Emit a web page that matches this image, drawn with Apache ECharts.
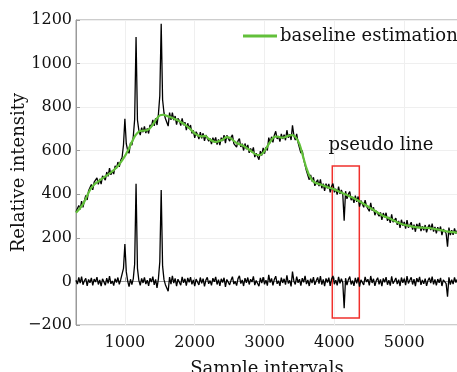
<!DOCTYPE html>
<html>
<head>
<meta charset="utf-8">
<script src="https://cdn.jsdelivr.net/npm/echarts@6/dist/echarts.min.js"></script>
<style>
html,body{margin:0;padding:0;background:#fff;}
#c{width:457px;height:372px;}
</style>
</head>
<body>
<div id="c"></div>
<script>
// sample grid of the measured spectra
const sampleStart = 300;
const sampleStep = 20;

// raw measured spectrum (relative intensity)
const rawSignal = [
 320,311,349,331,369,340,371,395,374,416,
 414,445,420,456,447,475,446,471,447,485,
 482,465,502,482,520,489,508,493,531,519,
 548,526,556,569,626,747,632,601,588,636,
 626,664,744,1122,741,693,672,706,685,712,
 681,702,679,719,709,742,714,749,718,767,
 852,1183,834,773,748,750,713,775,741,775,
 740,759,720,748,738,715,749,717,731,695,
 726,700,718,679,693,659,687,674,653,685,
 657,680,645,672,679,644,656,630,660,640,
 661,628,652,626,660,645,672,635,671,675,
 644,661,673,633,640,616,645,656,617,632,
 601,633,607,627,590,610,593,615,571,588,
 592,559,598,578,613,587,616,601,660,635,
 664,638,671,689,654,667,642,677,654,674,
 648,694,660,676,649,717,669,649,677,637,
 640,589,601,560,568,508,511,467,489,459,
 478,439,455,467,437,469,428,449,416,449,
 428,448,409,437,449,409,425,398,435,402,
 420,399,279,414,379,401,412,373,388,361,
 394,365,390,343,371,373,340,373,345,354,
 322,361,325,340,304,324,333,299,317,282,
 314,294,315,278,296,269,308,272,280,291,
 260,278,246,283,256,273,242,281,247,259,
 272,238,261,228,264,245,269,231,254,235,
 259,225,249,261,236,265,229,250,221,249,
 231,252,213,240,245,220,159,247,213,235,
 214,243,220,234
];

// baseline-corrected spectrum
const correctedSignal = [
 5,-12,18,-8,22,-15,3,14,-20,9,
 -6,16,-18,11,-3,20,-14,7,-22,12,
 4,-17,15,-9,24,-11,2,-19,13,-5,
 18,-13,8,12,60,172,45,2,-24,10,
 -14,12,80,448,60,5,-18,14,-7,19,
 -12,6,-20,15,-3,22,-16,9,-30,12,
 90,420,70,8,-15,-10,-45,20,-12,25,
 -8,14,-22,10,3,-17,21,-6,12,-19,
 16,-4,20,-13,7,-21,11,2,-16,18,
 -9,13,-23,6,19,-11,4,-18,15,-2,
 21,-14,8,-20,12,-5,17,-25,9,14,
 -16,5,22,-12,0,-19,13,26,-10,7,
 -21,15,-6,18,-14,10,-3,23,-17,4,
 12,-22,16,-8,20,-13,6,-19,30,-5,
 14,-18,9,24,-11,3,-20,17,-7,12,
 -15,28,-9,5,-23,45,1,-14,22,-6,
 10,-19,15,-4,26,-12,7,-21,13,-8,
 20,-16,3,18,-10,24,-15,9,-22,14,
 -5,17,-20,11,25,-13,6,-18,21,-9,
 12,-6,-123,15,-17,8,22,-14,4,-20,
 16,-9,19,-24,7,13,-16,21,-3,10,
 -18,25,-7,12,-20,4,17,-13,9,-22,
 14,-4,20,-15,6,-19,23,-10,2,16,
 -12,8,-21,18,-6,13,-17,24,-9,5,
 19,-14,10,-22,15,-3,21,-16,7,-11,
 13,-20,4,17,-8,22,-13,9,-18,11,
 -6,16,-21,7,14,-10,-70,19,-15,8,
 -12,18,-5,10
];

// baseline estimation
const baselineX = [300,400,500,550,600,700,800,900,1000,1050,1100,1150,1200,1250,1300,1350,1400,1450,1500,1550,1600,1700,1800,1900,2000,2050,2100,2150,2200,2300,2400,2450,2500,2550,2600,2700,2800,2900,2950,3000,3100,3150,3200,3250,3300,3350,3400,3450,3500,3550,3600,3650,3700,3750,3800,3900,4000,4100,4200,4300,4400,4500,4600,4700,4800,4900,5000,5100,5200,5300,5400,5500,5600,5700,5770];
const baselineY = [315,355,420,442,455,478,500,530,575,605,640,670,688,692,693,700,720,745,762,765,760,748,732,710,680,670,666,668,655,640,650,662,660,648,635,622,600,580,582,600,650,665,664,660,663,670,672,660,630,575,520,480,458,450,445,433,422,408,393,378,360,340,320,300,288,272,260,253,248,246,243,237,230,226,224];

// annotation box for the pseudo line
const pseudoBoxX = [3970, 4357];
const pseudoBoxY = [-168, 530];

const rawData = rawSignal.map((v, i) => [sampleStart + i * sampleStep, v]);
const corrData = correctedSignal.map((v, i) => [sampleStart + i * sampleStep, v]);
const baseData = baselineX.map((x, i) => [x, baselineY[i]]);

const FONT = 'DejaVu Serif';
const chart = echarts.init(document.getElementById('c'), null, {renderer: 'canvas'});
chart.setOption({
  animation: false,
  backgroundColor: '#fff',
  textStyle: {fontFamily: FONT},
  grid: {left: 76, top: 20, right: -1, bottom: 47, show: true, borderColor: '#9a9a9a', borderWidth: 1,
    containLabel: false, outerBoundsMode: 'none'},
  legend: {
    data: ['baseline estimation'],
    left: 238, top: 22,
    itemWidth: 34, itemHeight: 3,
    textStyle: {fontFamily: FONT, fontSize: 18, color: '#111', padding: [0,0,0,-2]},
    icon: 'rect'
  },
  xAxis: {
    type: 'value', min: 300, max: 5770,
    name: 'Sample intervals', nameLocation: 'middle', nameGap: 35, nameMoveOverlap: false,
    nameTextStyle: {fontFamily: FONT, fontSize: 18, color: '#111'},
    axisLine: {show: true, lineStyle: {color: '#9a9a9a'}},
    axisTick: {show: true, inside: true, length: 4, lineStyle: {color: '#9a9a9a'}},
    axisLabel: {fontFamily: FONT, fontSize: 16, color: '#111', margin: 10, showMinLabel: false, showMaxLabel: false,
      formatter: v => String(v)},
    splitLine: {show: true, lineStyle: {color: '#efefef', width: 1}}
  },
  yAxis: {
    type: 'value', min: -200, max: 1200, interval: 200,
    name: 'Relative intensity', nameLocation: 'middle', nameGap: 48, nameMoveOverlap: false,
    nameTextStyle: {fontFamily: FONT, fontSize: 18, color: '#111'},
    axisLine: {show: true, lineStyle: {color: '#9a9a9a'}},
    axisTick: {show: true, inside: true, length: 4, lineStyle: {color: '#9a9a9a'}},
    axisLabel: {fontFamily: FONT, fontSize: 16, color: '#111', margin: 4,
      formatter: v => String(v).replace('-', '\u2212')},
    splitLine: {show: true, lineStyle: {color: '#efefef', width: 1}}
  },
  series: [
    {
      name: 'corrected', type: 'line', data: corrData, showSymbol: false, symbol: 'none',
      lineStyle: {color: '#000', width: 1.3}, z: 2,
      markArea: {
        silent: true,
        itemStyle: {color: 'rgba(0,0,0,0)', borderColor: '#f0302c', borderWidth: 1.5},
        label: {show: true, position: [-3, -29], formatter: 'pseudo line',
          fontFamily: FONT, fontSize: 18, color: '#111'},
        data: [[{coord: [pseudoBoxX[0], pseudoBoxY[1]]}, {coord: [pseudoBoxX[1], pseudoBoxY[0]]}]]
      }
    },
    {
      name: 'raw', type: 'line', data: rawData, showSymbol: false, symbol: 'none',
      lineStyle: {color: '#000', width: 1.3}, z: 2
    },
    {
      name: 'baseline estimation', type: 'line', data: baseData, showSymbol: false, symbol: 'none',
      smooth: 0.3, color: '#62c03a',
      lineStyle: {color: '#62c03a', width: 2.2}, z: 3
    }
  ]
});
</script>
</body>
</html>
